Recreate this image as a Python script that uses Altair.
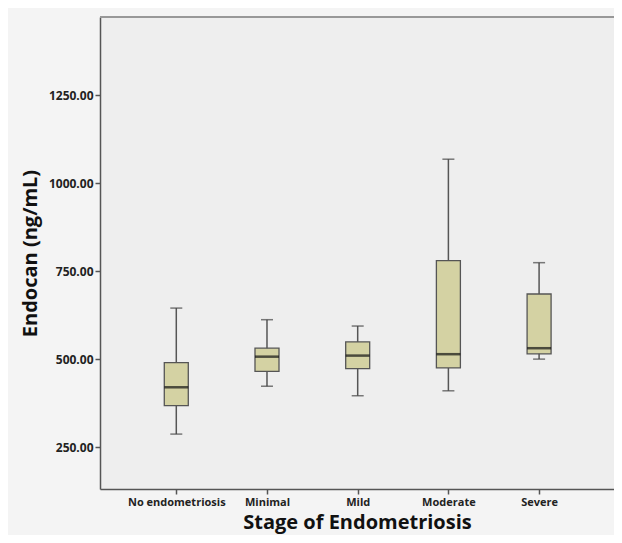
import altair as alt
import pandas as pd

categories = ["No endometriosis", "Minimal", "Mild", "Moderate", "Severe"]
whisker_low = [287, 423, 396, 410, 500]
q1 = [368, 465, 473, 475, 515]
median = [420, 507, 510, 514, 531]
q3 = [490, 531, 549, 780, 685]
whisker_high = [645, 612, 594, 1068, 774]
y_ticks = [250, 500, 750, 1000, 1250]

df = pd.DataFrame({
    "idx": list(range(len(categories))),
    "stage": categories,
    "low": whisker_low,
    "q1": q1,
    "median": median,
    "q3": q3,
    "high": whisker_high,
})

label_expr = "[" + ",".join("'" + c + "'" for c in categories) + "][datum.value]"

FONT = "Open Sans"
W = 514
x_scale = alt.Scale(domain=[-0.786, -0.786 + W / 92.5], nice=False, zero=False)
y_scale = alt.Scale(domain=[131, 1472], nice=False, zero=False)

x_enc = alt.X(
    "idx:Q",
    scale=x_scale,
    axis=alt.Axis(
        values=list(range(len(categories))),
        labelExpr=label_expr,
        title="Stage of Endometriosis",
        titleFont=FONT, titleFontSize=20, titleFontWeight="bold", titleColor="#111",
        titlePadding=5,
        labelFont=FONT, labelFontSize=11, labelFontWeight="bold", labelColor="#222",
        labelPadding=2,
        grid=False, domainColor="#555", domainWidth=1.5,
        tickColor="#555", tickSize=5, tickWidth=1.5,
    ),
)
y_axis = alt.Axis(
    values=y_ticks,
    format=".2f",
    title="Endocan (ng/mL)",
    titleFont=FONT, titleFontSize=20, titleFontWeight="bold", titleColor="#111",
    titlePadding=8,
    labelFont=FONT, labelFontSize=12, labelFontWeight="bold", labelColor="#222",
    labelPadding=2,
    grid=False, domainColor="#555", domainWidth=1.5,
    tickColor="#555", tickSize=5, tickWidth=1.5,
)

base = alt.Chart(df)

whisker = base.mark_rule(color="#555", strokeWidth=1.5).encode(
    x=x_enc,
    y=alt.Y("low:Q", scale=y_scale, axis=y_axis),
    y2="high:Q",
)
caps_low = base.mark_tick(orient="horizontal", size=12, thickness=1.5, color="#444").encode(
    x="idx:Q", y="low:Q"
)
caps_high = base.mark_tick(orient="horizontal", size=12, thickness=1.5, color="#444").encode(
    x="idx:Q", y="high:Q"
)
box = base.mark_bar(size=24, fill="#d4d2a3", stroke="#555", strokeWidth=1.3).encode(
    x="idx:Q", y="q1:Q", y2="q3:Q"
)
med = base.mark_tick(orient="horizontal", size=24, thickness=2.5, color="#111").encode(
    x="idx:Q", y="median:Q"
)
top_line = base.mark_rule(color="#999", strokeWidth=1.5).encode(
    x=alt.value(0), x2=alt.value(W), y=alt.value(0)
)

chart = alt.layer(whisker, box, caps_low, caps_high, med, top_line).properties(
    width=W,
    height=472,
    background="#f4f4f4",
    padding={"left": 92, "top": 9, "right": 0, "bottom": 46},
    autosize=alt.AutoSizeParams(type="none"),
).configure_view(fill="#eeeeee", stroke=None)

chart.save("out.html", embed_options={"renderer": "svg", "actions": False})
